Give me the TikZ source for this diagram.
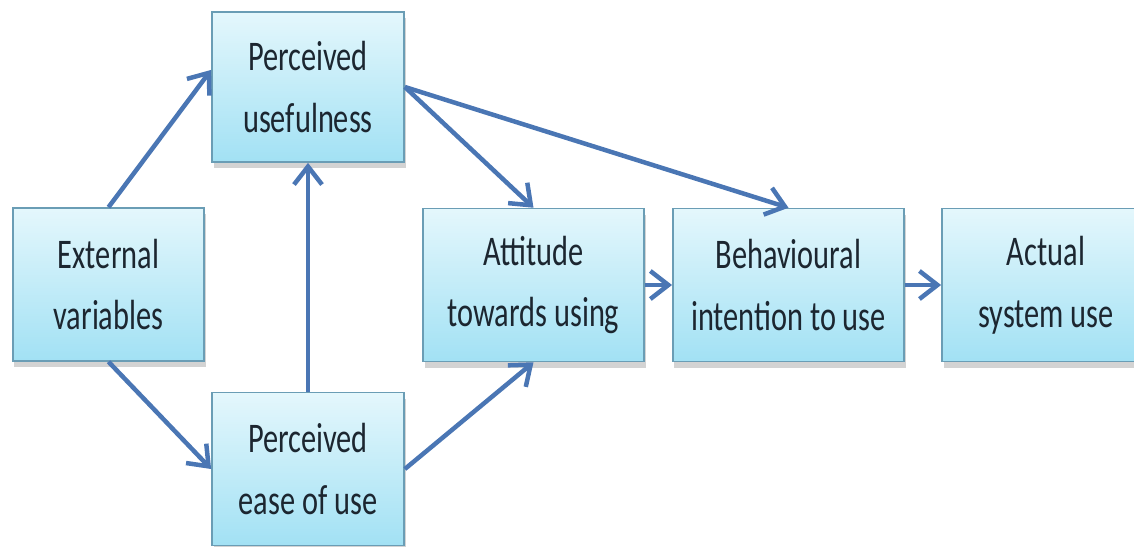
\documentclass[tikz,border=0pt]{standalone}
\usepackage{fontspec}
\setmainfont[FakeStretch=0.72]{Carlito}
\usetikzlibrary{positioning,arrows.meta,shadows}
\definecolor{tamline}{HTML}{4A76B4}
\definecolor{tamedge}{HTML}{6A9DB5}
\definecolor{tamtop}{HTML}{E4F7FC}
\definecolor{tambot}{HTML}{A2E1F4}
\definecolor{tamtext}{HTML}{1C2630}
\tikzset{
  box/.style={rectangle,draw=tamedge,line width=1.2pt,top color=tamtop,bottom color=tambot,
    minimum height=3.82cm,align=center,text=tamtext,inner sep=2pt,
    font=\fontsize{30}{44}\selectfont,
    drop shadow={shadow xshift=0.4mm,shadow yshift=-1.6mm,opacity=0.35}},
  flow/.style={-{Straight Barb[length=4.5mm,width=7mm]},line width=3.2pt,draw=tamline},
}

\begin{document}
\begin{tikzpicture}[x=0.025cm,y=-0.025cm]
  \useasboundingbox (0,0) rectangle (1134,547);
  % left column
  \node[box,minimum width=4.78cm] (ext) at (108.5,284.5) {External\\variables};
  \node[box,minimum width=4.8cm,minimum height=3.75cm] (pu) at (308,87) {Perceived\\usefulness};
  \node[box,minimum width=4.8cm] (peou) at (308,469) {Perceived\\ease of use};
  % main row
  \node[box,minimum width=5.52cm] (att) at (533.5,285) {Attitude\\towards using};
  \node[box,minimum width=5.78cm] (beh) at (788.5,285) {Behavioural\\intention to use};
  \node[box,minimum width=5.2cm] (act) at (1046,285) {Actual\\system use};
  % arrows
  \draw[flow] (ext.north) -- (pu.170);
  \draw[flow] (ext.south) -- (peou.west);
  \draw[flow] (peou.north) -- (pu.south);
  \draw[flow] (pu.east) -- (att.north);
  \draw[flow] (pu.east) -- (beh.north);
  \draw[flow] (peou.east) -- (att.south);
  \draw[flow] (att.east) -- (beh.west);
  \draw[flow] (beh.east) -- (act.west);
\end{tikzpicture}
\end{document}
